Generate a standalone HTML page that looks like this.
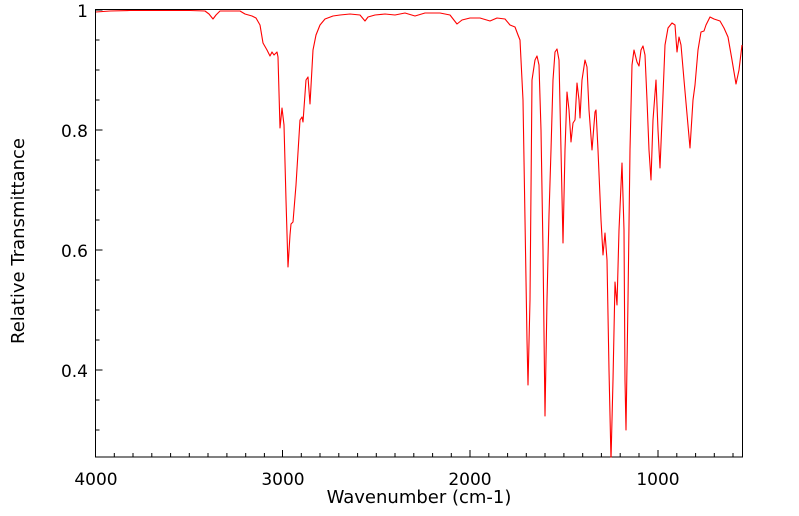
<!DOCTYPE html>
<html><head><meta charset="utf-8"><style>
html,body{margin:0;padding:0;background:#fff;}
svg{display:block;font-family:"DejaVu Sans",sans-serif;}
</style></head><body>
<svg width="799" height="516" viewBox="0 0 799 516">
<rect x="95.5" y="9.5" width="647" height="447.5" fill="none" stroke="#000" stroke-width="1"/>
<g stroke="#000" stroke-width="1">
<path d="M95.5 457v-7M282.5 457v-7M470 457v-7M658 457v-7"/>
<path d="M114.3 457v-4M133 457v-4M151.8 457v-4M170.6 457v-4M189.3 457v-4M208 457v-4M226.9 457v-4M245.7 457v-4M264.4 457v-4
M301.3 457v-4M320 457v-4M338.8 457v-4M357.6 457v-4M376.3 457v-4M395 457v-4M413.8 457v-4M432.6 457v-4M451.3 457v-4
M488.8 457v-4M507.6 457v-4M526.3 457v-4M545 457v-4M563.9 457v-4M582.7 457v-4M601.4 457v-4M620.2 457v-4M639 457v-4
M676.8 457v-4M695.6 457v-4M714.3 457v-4M733 457v-4"/>
<path d="M95.5 10h7M95.5 130h7M95.5 250h7M95.5 370h7"/>
<path d="M95.5 40h4M95.5 70h4M95.5 100h4M95.5 160h4M95.5 190h4M95.5 220h4M95.5 280h4M95.5 310h4M95.5 340h4M95.5 400h4M95.5 430h4"/>
</g>
<g font-size="17" fill="#000">
<text x="96" y="485" text-anchor="middle">4000</text>
<text x="283" y="485" text-anchor="middle">3000</text>
<text x="470" y="485" text-anchor="middle">2000</text>
<text x="658" y="485" text-anchor="middle">1000</text>
<text x="88" y="17" text-anchor="end">1</text>
<text x="88" y="137" text-anchor="end">0.8</text>
<text x="88" y="257" text-anchor="end">0.6</text>
<text x="88" y="377" text-anchor="end">0.4</text>
</g>
<text x="419" y="503" font-size="18" text-anchor="middle">Wavenumber (cm-1)</text>
<text transform="translate(24,241) rotate(-90)" font-size="18" text-anchor="middle">Relative Transmittance</text>
<svg x="95.5" y="9.5" width="647" height="448" viewBox="95.5 9.5 647 448" overflow="hidden">
<polyline fill="none" stroke="#ff0000" stroke-width="1.1" stroke-linejoin="round" points="
96,12 110,11 130,10.5 160,10.5 190,10.5 205,11 209,14 213,19 216,15 220,11 240,11 245,14 252,16 256,18 260,25 263,43 267,50 270,56 272,52 274,55 277,52 278,57 280,128 282,108 284,125 286,200 288,267 290,235 291,224 293,222 296,185 300,120 302,117 303,122 306,80 308,77 310,104 313,50 316,35 320,25 325,19 333,16 340,15 350,14 360,15 365,21 368,17 375,15 385,14 395,15 405,13 415,16 425,13 440,13 450,15 457,24 462,20 470,18 480,18 490,21 497,18 505,19 510,25 515,27 518,35 520,40 523,100 525,220 527,340 528,385 530,300 532,80 535,60 537,56 539,65 541,130 543,250 545,416 547,300 549,215 551,150 553,80 555,52 557,49 559,60 561,150 563,243 565,150 567,92 569,110 571,142 573,123 575,120 577,83 579,100 580,118 582,80 585,60 587,67 589,110 592,150 595,112 596,110 598,150 601,220 603,255 605,233 607,260 609,370 611,460 613,380 615,282 617,305 619,230 622,163 624,230 625,380 626,430 628,300 630,150 632,65 634,50 637,62 639,66 641,50 643,46 645,55 647,100 649,150 651,180 653,120 656,80 658,130 660,168 662,120 665,45 668,28 672,23 675,25 677,52 679,37 681,45 684,80 690,148 693,100 695,85 698,50 701,32 704,31 706,25 710,17 714,19 720,21 724,28 728,37 732,60 736,84 739,70 742,45"/>
</svg>
</svg>
</body></html>
